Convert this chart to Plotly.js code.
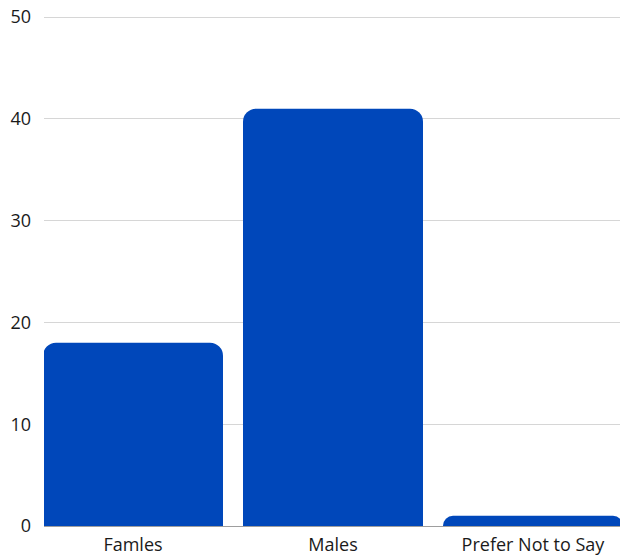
<!DOCTYPE html>
<html>
<head>
<meta charset="utf-8">
<script src="https://cdn.plot.ly/plotly-3.0.1.min.js"></script>
<style>html,body{margin:0;padding:0;background:#fff;}#chart{width:620px;height:557px;}</style>
</head>
<body>
<div id="chart"></div>
<script>
const categories = ["Famles", "Males", "Prefer Not to Say"];
const counts = [18, 41, 1];
const yTicks = [0, 10, 20, 30, 40, 50];

const trace = {
  type: "bar",
  x: [0, 1, 2],
  y: counts,
  marker: { color: "#0047ba", cornerradius: 13 },
  hoverinfo: "none"
};

const layout = {
  width: 620,
  height: 557,
  margin: { l: 44, r: 0, t: 14, b: 31 },
  paper_bgcolor: "#ffffff",
  plot_bgcolor: "#ffffff",
  bargap: 0.1,
  showlegend: false,
  font: { family: "'Open Sans', 'Noto Sans', Arial, sans-serif", size: 18, color: "#1a1a1a" },
  xaxis: {
    range: [-0.445, 2.435],
    tickmode: "array",
    tickvals: [0, 1, 2],
    ticktext: categories,
    showgrid: false,
    zeroline: false,
    showline: false,
    ticks: "",
    ticklabelstandoff: 6,
    fixedrange: true
  },
  yaxis: {
    range: [0, 50.3],
    tickmode: "array",
    tickvals: yTicks,
    ticktext: yTicks.map(String),
    showgrid: true,
    gridcolor: "#d6d6d6",
    gridwidth: 1,
    zeroline: true,
    zerolinecolor: "#9e9e9e",
    zerolinewidth: 1,
    ticks: "",
    ticklabelstandoff: 12,
    fixedrange: true
  }
};

Plotly.newPlot("chart", [trace], layout, { displayModeBar: false, staticPlot: true });
</script>
</body>
</html>
